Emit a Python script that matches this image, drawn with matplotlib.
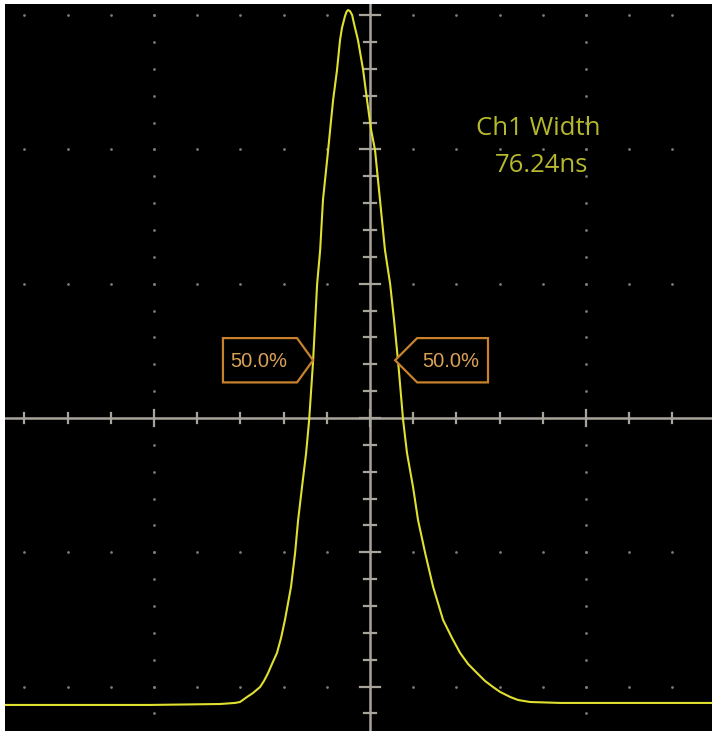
import numpy as np
import matplotlib.pyplot as plt
from matplotlib.patches import Polygon

# trace, in graticule divisions (x: time div, y: vertical div)
trace_x = [-1.690, -1.019, -0.694, -0.625, -0.602, -0.569, -0.542, -0.509, -0.491,
           -0.472, -0.454, -0.431, -0.412, -0.394,
           -0.366, -0.347, -0.333, -0.315, -0.296, -0.282, -0.264, -0.245, -0.231,
           -0.218, -0.194, -0.185, -0.171, -0.153, -0.139, -0.130, -0.116, -0.109,
           -0.102, -0.093, -0.083, -0.074, -0.056,
           -0.032, -0.014, 0.005, 0.023, 0.046, 0.069, 0.093, 0.111, 0.130, 0.153,
           0.171, 0.199, 0.222, 0.255, 0.292, 0.338, 0.380, 0.417, 0.454, 0.495,
           0.532, 0.569, 0.602, 0.648, 0.685, 0.741, 0.880, 1.583]
trace_y = [-2.137, -2.137, -2.130, -2.122, -2.115, -2.077, -2.048, -2.003, -1.958,
           -1.899, -1.832, -1.750, -1.638, -1.504,
           -1.258, -1.005, -0.759, -0.514, -0.261, -0.015, 0.417, 0.998, 1.251,
           1.623, 1.996, 2.144, 2.368, 2.591, 2.815, 2.905, 2.993, 3.025,
           3.038, 3.030, 3.001, 2.935, 2.815,
           2.591, 2.368, 2.144, 1.996, 1.623, 1.251, 0.998, 0.730, 0.417, -0.015,
           -0.261, -0.514, -0.759, -1.005, -1.258, -1.504, -1.640, -1.750, -1.832, -1.899,
           -1.958, -2.003, -2.040, -2.077, -2.100, -2.115, -2.122, -2.122]

# 50% width markers
level_50 = 0.43
cross_left = -0.264
cross_right = 0.116
marker_text = "50.0%"
meas_title = "Ch1 Width"
meas_value = "76.24ns"

XLIM = (-1.690, 1.583)
YLIM = (-2.331, 3.083)

GRID = "#a8a49c"
DOT = "#7a7a7a"
TRACE = "#e0e030"
ORANGE = "#c8822d"


def main():
    fig = plt.figure(figsize=(7.12, 7.31), dpi=100, facecolor="white")
    ax = fig.add_axes([5 / 712, 0, 707 / 712, 727 / 731])
    ax.set_facecolor("black")
    ax.set_xlim(*XLIM)
    ax.set_ylim(*YLIM)
    ax.set_xticks([])
    ax.set_yticks([])
    for s in ax.spines.values():
        s.set_visible(False)

    # dotted graticule
    xs = np.arange(-1.6, 1.5, 0.2)
    for gy in [-2, -1, 1, 2, 3]:
        ax.plot(xs, np.full_like(xs, gy), ls="none", marker="o",
                ms=2, color=DOT, mec="none")
    ys = np.arange(-2.2, 3.1, 0.2)
    for gx in [-1, 1]:
        ax.plot(np.full_like(ys, gx), ys, ls="none", marker="o", ms=2,
                color=DOT, mec="none")

    # center cross with ticks
    ax.axhline(0, color=GRID, lw=1.8)
    ax.axvline(0, color=GRID, lw=1.8)
    for tx in np.arange(-1.6, 1.61, 0.2):
        h = 0.06 if abs(tx - round(tx)) < 1e-6 else 0.037
        ax.plot([tx, tx], [-h, h], color=GRID, lw=1.6)
    for ty in np.arange(-2.2, 3.1, 0.2):
        h = 0.046 if abs(ty - round(ty)) < 1e-6 else 0.028
        ax.plot([-h, h], [ty, ty], color=GRID, lw=1.6)

    # waveform
    ax.plot(trace_x, trace_y, color=TRACE, lw=1.5, solid_joinstyle="round")

    # 50% markers
    hh = 0.165
    left = Polygon([(cross_left - 0.417, level_50 + hh), (cross_left - 0.074, level_50 + hh),
                    (cross_left, level_50), (cross_left - 0.074, level_50 - hh),
                    (cross_left - 0.417, level_50 - hh)],
                   closed=True, fc="black", ec=ORANGE, lw=1.6, zorder=5)
    right = Polygon([(cross_right, level_50), (cross_right + 0.102, level_50 + hh),
                     (cross_right + 0.430, level_50 + hh), (cross_right + 0.430, level_50 - hh),
                     (cross_right + 0.102, level_50 - hh)],
                    closed=True, fc="black", ec=ORANGE, lw=1.6, zorder=5)
    ax.add_patch(left)
    ax.add_patch(right)
    ax.text(cross_left - 0.250, level_50 - 0.01, marker_text, color="#daa256", fontsize=14.5,
            family="Liberation Sans", ha="center", va="center", zorder=6)
    ax.text(cross_right + 0.259, level_50 - 0.01, marker_text, color="#daa256", fontsize=14.5,
            family="Liberation Sans", ha="center", va="center", zorder=6)

    # measurement readout
    ax.text(0.778, 2.159, meas_title, color="#b6b82e", fontsize=18.5,
            family="Open Sans", ha="center", va="center")
    ax.text(0.796, 1.884, meas_value, color="#b6b82e", fontsize=18.5,
            family="Open Sans", ha="center", va="center")

    fig.savefig("out.png", dpi=100, facecolor="white")


if __name__ == "__main__":
    main()
